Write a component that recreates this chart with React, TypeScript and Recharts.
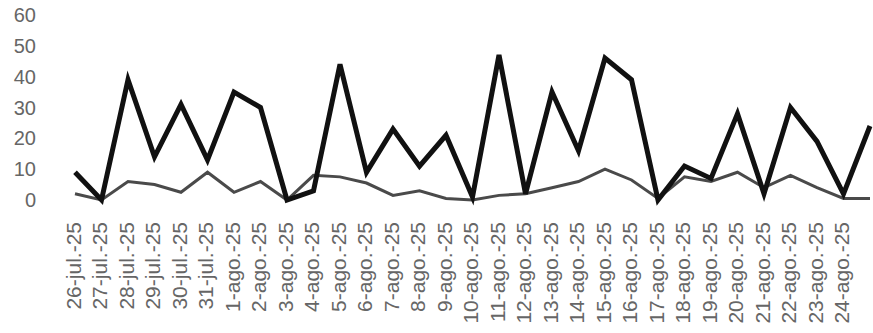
import { LineChart, Line, XAxis, YAxis } from 'recharts';

const categories = [
  '26-jul.-25', '27-jul.-25', '28-jul.-25', '29-jul.-25', '30-jul.-25', '31-jul.-25',
  '1-ago.-25', '2-ago.-25', '3-ago.-25', '4-ago.-25', '5-ago.-25', '6-ago.-25',
  '7-ago.-25', '8-ago.-25', '9-ago.-25', '10-ago.-25', '11-ago.-25', '12-ago.-25',
  '13-ago.-25', '14-ago.-25', '15-ago.-25', '16-ago.-25', '17-ago.-25', '18-ago.-25',
  '19-ago.-25', '20-ago.-25', '21-ago.-25', '22-ago.-25', '23-ago.-25', '24-ago.-25',
  '25-ago.-25',
];

// serie gruesa
const serieA = [
  9, 0, 39, 14, 31, 13, 35, 30, 0, 3, 44, 9, 23, 11, 21, 1, 47, 2, 35, 16,
  46, 39, 0, 11, 7, 28, 2, 30, 19, 2, 24,
];

// serie fina
const serieB = [
  2, 0, 6, 5, 2.5, 9, 2.5, 6, 0, 8, 7.5, 5.5, 1.5, 3, 0.5, 0, 1.5, 2, 4, 6,
  10, 6.5, 0.5, 7.5, 6, 9, 4, 8, 4, 0.5, 0.5,
];

const yTicks = [0, 10, 20, 30, 40, 50, 60];

const data = categories.map((label, i) => ({ label, a: serieA[i], b: serieB[i] }));

const FONT = '"Liberation Sans", Arial, sans-serif';
const TEXT = '#666';

function DateTick(props: any) {
  const { x, y, payload, index } = props;
  // la última etiqueta queda fuera del recorte en la imagen original
  if (index === categories.length - 1) return null;
  const tx = x - 2;
  return (
    <text
      x={tx}
      y={y}
      transform={`rotate(-90, ${tx}, ${y})`}
      textAnchor="end"
      dominantBaseline="central"
      fontSize={21}
      fontFamily={FONT}
      fill={TEXT}
    >
      {payload.value}
    </text>
  );
}

export default function App() {
  return (
    <div style={{ position: 'absolute', left: 0, top: 0, background: '#fff' }}>
      <LineChart width={873} height={333} data={data} margin={{ top: 15, right: 3, bottom: 0, left: 0 }}>
        <XAxis
          dataKey="label"
          scale="point"
          padding={{ left: 0, right: 0 }}
          interval={0}
          axisLine={false}
          tickLine={false}
          tickSize={0}
          tickMargin={22}
          height={133}
          tick={<DateTick />}
        />
        <YAxis
          domain={[0, 60]}
          ticks={yTicks}
          axisLine={false}
          tickLine={false}
          tickSize={0}
          tickMargin={39}
          width={75}
          tick={{ fontSize: 20, fill: TEXT, fontFamily: FONT }}
        />
        <Line
          type="linear"
          dataKey="b"
          stroke="#4a4a4a"
          strokeWidth={3}
          dot={false}
          isAnimationActive={false}
        />
        <Line
          type="linear"
          dataKey="a"
          stroke="#111"
          strokeWidth={5}
          dot={false}
          isAnimationActive={false}
        />
      </LineChart>
    </div>
  );
}
